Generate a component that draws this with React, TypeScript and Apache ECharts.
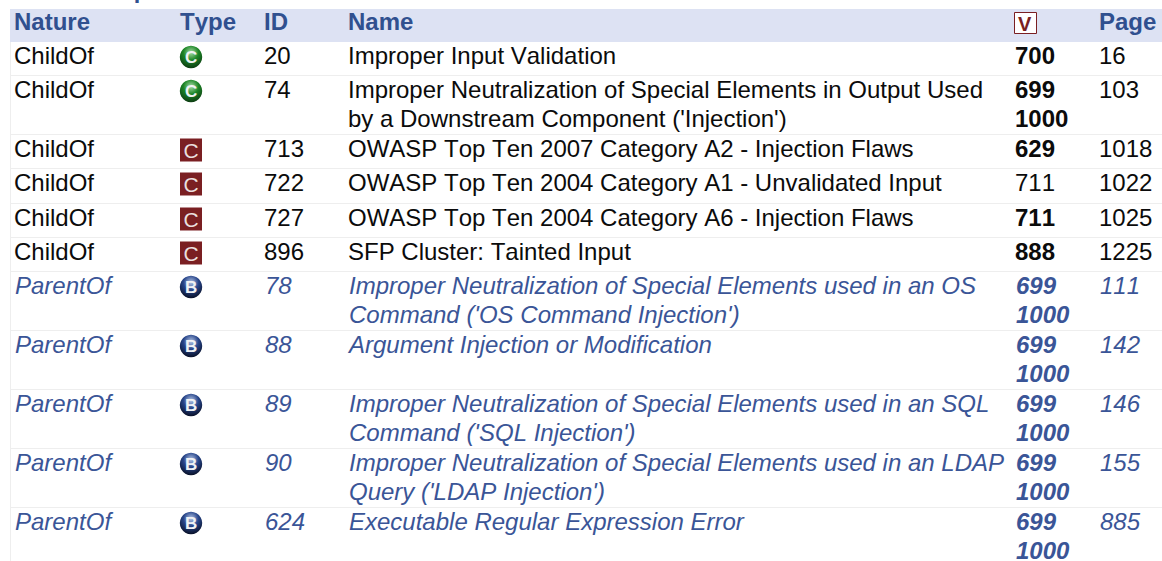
import React, { useEffect, useRef } from "react";
import * as echarts from "echarts";

const headers = ["Nature", "Type", "ID", "Name", "Page"];
const title = "Relationships";
const natures = ["ChildOf","ChildOf","ChildOf","ChildOf","ChildOf","ChildOf","ParentOf","ParentOf","ParentOf","ParentOf","ParentOf"];
const types = ["C","C","K","K","K","K","B","B","B","B","B"];
const ids = ["20","74","713","722","727","896","78","88","89","90","624"];
const names = [
  ["Improper Input Validation"],
  ["Improper Neutralization of Special Elements in Output Used","by a Downstream Component ('Injection')"],
  ["OWASP Top Ten 2007 Category A2 - Injection Flaws"],
  ["OWASP Top Ten 2004 Category A1 - Unvalidated Input"],
  ["OWASP Top Ten 2004 Category A6 - Injection Flaws"],
  ["SFP Cluster: Tainted Input"],
  ["Improper Neutralization of Special Elements used in an OS","Command ('OS Command Injection')"],
  ["Argument Injection or Modification"],
  ["Improper Neutralization of Special Elements used in an SQL","Command ('SQL Injection')"],
  ["Improper Neutralization of Special Elements used in an LDAP","Query ('LDAP Injection')"],
  ["Executable Regular Expression Error"],
];
const views = [["700"],["699","1000"],["629"],["711"],["711"],["888"],["699","1000"],["699","1000"],["699","1000"],["699","1000"],["699","1000"]];
const viewBold = [true,true,true,false,true,true,true,true,true,true,true];
const pages = ["16","103","1018","1022","1025","1225","111","142","146","155","885"];
const rowTops = [42,76,135,169,204,238,272,331,390,449,508];

const COL = { nature: 14, type: 180, id: 264, name: 348, view: 1015, page: 1099 };
const FONT = '"Liberation Sans", Arial, sans-serif';
const BLUE = "#30508f";
const ITALIC = "#3a5597";
const INK = "#0b0b0b";
const LINE_H = 29;
const SIZE = 24;

function text(str: string, x: number, y: number, fill: string, weight = "normal", style = "normal", size = SIZE) {
  return {
    type: "text",
    style: { text: str, x, y, fill, font: `${style} ${weight} ${size}px ${FONT}`, align: "left", verticalAlign: "middle" },
  };
}

function badge(kind: string, cx: number, cy: number) {
  if (kind === "K") {
    return [
      { type: "rect", shape: { x: cx - 11, y: cy - 11.5, width: 22, height: 23 }, style: { fill: "#7a1f22" } },
      text("C", cx - 7.5, cy + 0.5, "#eadfdf", "normal", "normal", 21),
    ];
  }
  const colors = kind === "C" ? ["#a5dca5", "#1c8526", "#0b3310"] : ["#b4c5e6", "#27458a", "#05091a"];
  return [
    {
      type: "circle",
      shape: { cx, cy, r: 11.2 },
      style: {
        fill: new echarts.graphic.RadialGradient(0.5, 0.3, 0.75, [
          { offset: 0, color: colors[0] },
          { offset: 0.45, color: colors[1] },
          { offset: 1, color: colors[2] },
        ]),
      },
    },
    text(kind, cx - 6, cy + 0.5, "#f0f2f4", "bold", "normal", 17),
  ];
}

export default function App() {
  const ref = useRef<HTMLDivElement>(null);
  useEffect(() => {
    const chart = echarts.init(ref.current!, undefined, { renderer: "svg" });
    const rowData = natures.map((_, i) => [i, rowTops[i]]);
    chart.setOption({
      animation: false,
      backgroundColor: "#ffffff",
      grid: { left: 0, right: 0, top: 0, bottom: 0 },
      xAxis: { type: "value", min: 0, max: 1162, show: false },
      yAxis: { type: "value", min: 0, max: 561, inverse: true, show: false },
      series: [
        {
          type: "custom",
          silent: true,
          clip: false,
          data: [[-1, 9]],
          renderItem: (_: any, api: any) => {
            const top = api.coord([0, api.value(1)])[1];
            return {
              type: "group",
              children: [
                text(title, 7, -10, BLUE, "bold", "normal", 23.5),
                { type: "rect", shape: { x: 10, y: top, width: 1152, height: 33 }, style: { fill: "#dde2f3" } },
                { type: "rect", shape: { x: 10, y: top + 33, width: 1, height: 519 }, style: { fill: "#eeeeee" } },
                text(headers[0], COL.nature, top + 12.5, BLUE, "bold"),
                text(headers[1], COL.type, top + 12.5, BLUE, "bold"),
                text(headers[2], COL.id, top + 12.5, BLUE, "bold"),
                text(headers[3], COL.name, top + 12.5, BLUE, "bold"),
                text(headers[4], COL.page, top + 12.5, BLUE, "bold"),
                { type: "rect", shape: { x: COL.view - 0.5, y: top + 3.5, width: 22, height: 21 }, style: { fill: "#ffffff", stroke: "#7a1f22", lineWidth: 1 } },
                text("V", COL.view + 3, top + 14.5, "#7a1f22", "bold", "normal", 20),
              ],
            };
          },
        },
        {
          type: "custom",
          silent: true,
          clip: false,
          data: rowData,
          renderItem: (_: any, api: any) => {
            const i = api.value(0);
            const top = api.coord([0, api.value(1)])[1];
            const parent = natures[i] === "ParentOf";
            const fill = parent ? ITALIC : INK;
            const st = parent ? "italic" : "normal";
            const dx = parent ? 1 : 0;
            const y = top + 13;
            const children: any[] = [
              { type: "rect", shape: { x: 10, y: top - 1, width: 1152, height: 1 }, style: { fill: i === 0 ? "#dde2f3" : "#eeeeee" } },
              text(natures[i], COL.nature + dx, y, fill, "normal", st),
              ...badge(types[i], COL.type + 11, top + 15),
              text(ids[i], COL.id + dx, y, fill, "normal", st),
              text(pages[i], COL.page + dx, y, fill, "normal", st),
            ];
            names[i].forEach((s, k) => children.push(text(s, COL.name + dx, y + k * LINE_H, fill, "normal", st)));
            views[i].forEach((s, k) => children.push(text(s, COL.view + dx, y + k * LINE_H, fill, viewBold[i] ? "bold" : "normal", st)));
            return { type: "group", children };
          },
        },
      ],
    });
    return () => chart.dispose();
  }, []);
  return (
    <>
      <style>{"svg text{font-kerning:none !important}"}</style>
      <div ref={ref} style={{ position: "fixed", left: 0, top: 0, width: 1162, height: 561 }} />
    </>
  );
}
